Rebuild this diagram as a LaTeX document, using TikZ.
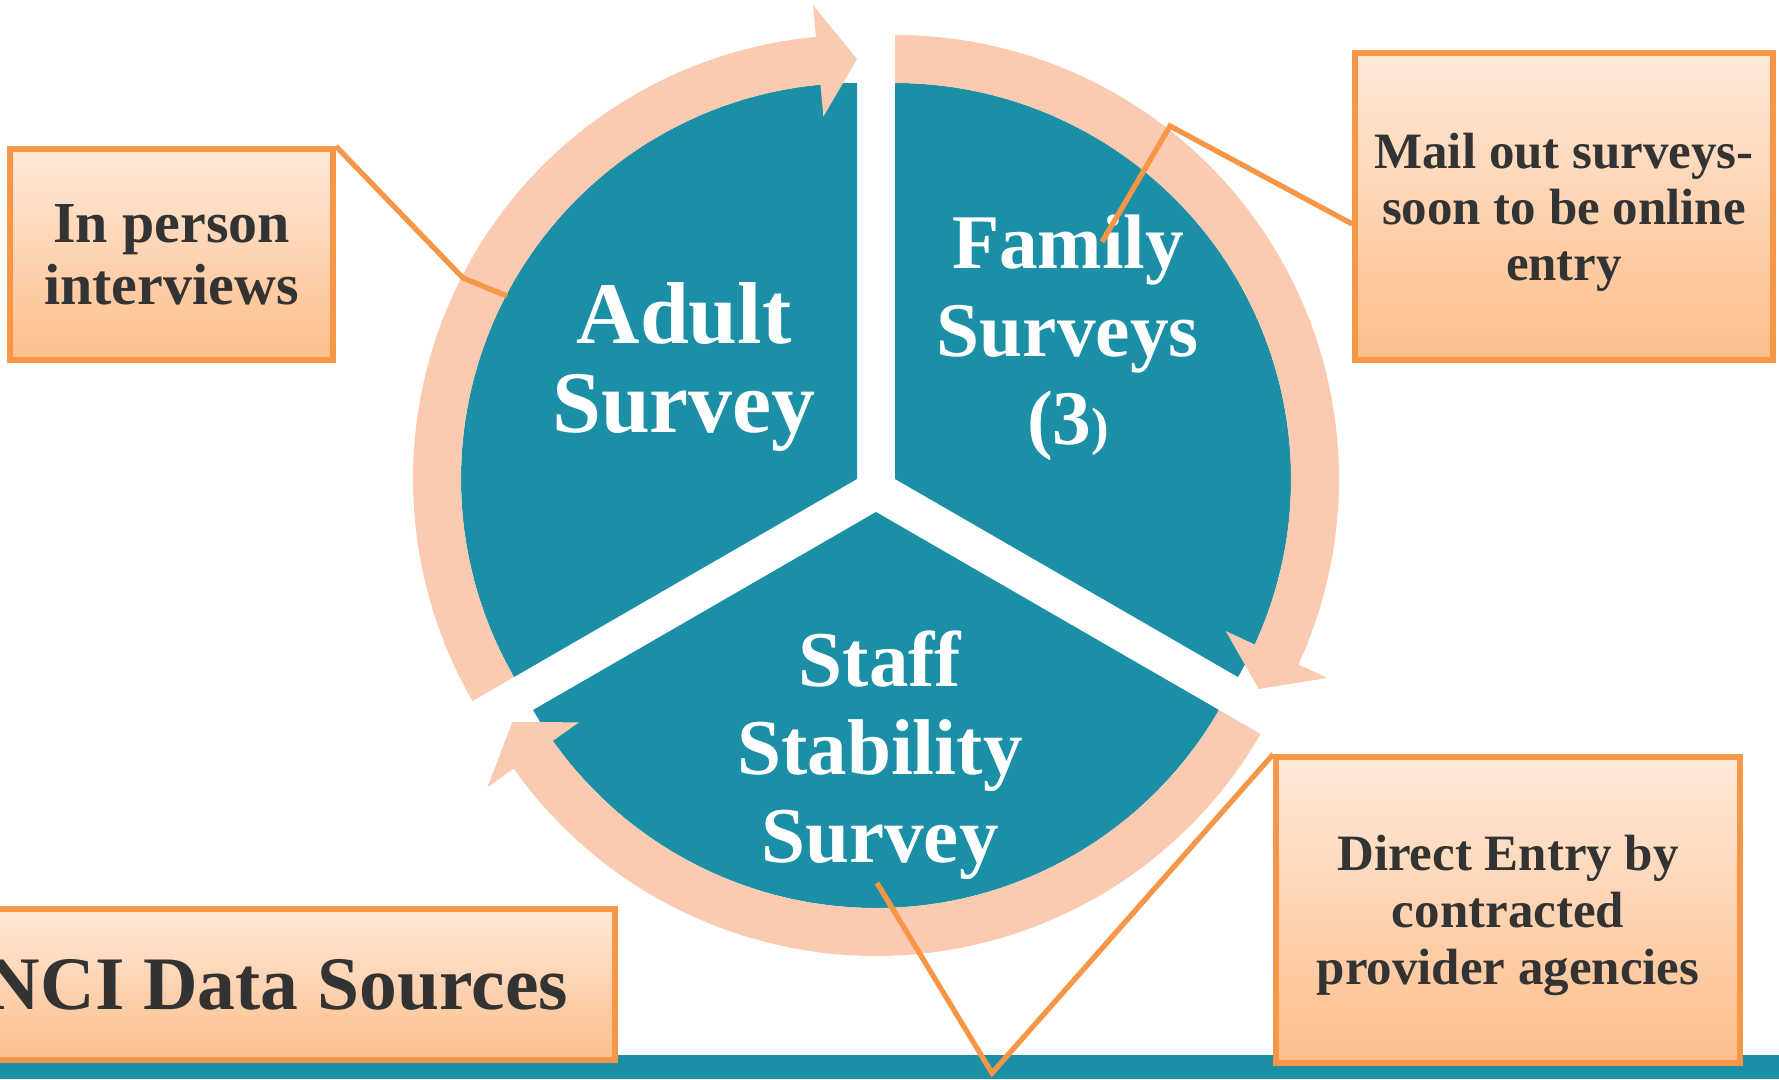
\documentclass[tikz,border=0pt]{standalone}
\usepackage{fontspec}
\setmainfont{Liberation Serif}
\usetikzlibrary{calc,shadows}
\definecolor{pieteal}{RGB}{26,143,166}
\definecolor{ringpeach}{RGB}{250,202,177}
\definecolor{calloutorange}{RGB}{247,150,70}
\definecolor{boxtop}{RGB}{255,233,217}
\definecolor{boxbottom}{RGB}{252,190,139}
\definecolor{boxtext}{RGB}{51,51,51}
\tikzset{
  sector/.style={fill=pieteal},
  ringarrow/.style={fill=ringpeach},
  sectortext/.style={text=white,font=\fontsize{25}{25.2}\selectfont\bfseries,align=center,inner sep=0pt},
  callout/.style={draw=calloutorange,line width=1.6pt,top color=boxtop,bottom color=boxbottom,text=boxtext,align=center,inner sep=0pt,text depth=0pt,
    drop shadow={opacity=0.25,shadow xshift=0.8pt,shadow yshift=-0.8pt}},
  leader/.style={draw=calloutorange,line width=1.5pt}
}
\begin{document}
\begin{tikzpicture}
    \useasboundingbox (0,0) rectangle (17.79,10.79);
    \fill[pieteal] (0,0) rectangle (17.79,0.24);
    \coordinate (av) at (8.57,6.00);
    \coordinate (fv) at (8.95,6.00);
    \coordinate (sv) at (8.76,5.67);
    \foreach \v/\a in {av/90,fv/-30,sv/210}
        \fill[sector] (\v) -- ++(\a:3.96) arc[start angle=\a,delta angle=120,radius=3.96] -- cycle;
    \foreach \v/\a in {av/210,fv/90,sv/-30}{
        \pgfmathsetmacro\b{\a-114.7}
        \pgfmathsetmacro\t{\a-120}
        \begin{scope}[shift={(\v)}]
            \fill[ringarrow] (\a:3.96) arc[start angle=\a,end angle=\b,radius=3.96] -- (\b:3.64) -- (\t:4.2) -- (\b:4.76) -- (\b:4.44)
                arc[start angle=\b,end angle=\a,radius=4.44] -- cycle;
        \end{scope}
    }
    \node[sectortext] (adult) at (6.84,7.12) {Adult\\Survey};
    \node[sectortext,font=\fontsize{22}{25}\selectfont\bfseries] (family) at (10.68,7.41) {Family\\Surveys\\(3{\fontsize{15}{15}\selectfont)}};
    \node[sectortext,font=\fontsize{22.5}{25}\selectfont\bfseries] (staff) at (8.80,3.24) {Staff\\Stability\\Survey};
    \node[callout,minimum width=3.23cm,minimum height=2.11cm,text depth=-2.2pt,font=\fontsize{16.5}{17.6}\selectfont\bfseries] (inperson) at (1.715,8.245) {In person\\interviews};
    \node[callout,minimum width=4.18cm,minimum height=3.07cm,font=\fontsize{14.5}{15.9}\selectfont\bfseries] (mail) at (15.64,8.725) {Mail out surveys-\\soon to be online\\entry};
    \node[callout,minimum width=4.64cm,minimum height=3.06cm,font=\fontsize{14.5}{16.2}\selectfont\bfseries] (direct) at (15.08,1.69) {Direct Entry by\\contracted\\provider agencies};
    \node[callout,minimum width=6.76cm,minimum height=1.51cm,font=\fontsize{21.5}{22}\selectfont\bfseries] (nci) at (2.77,0.945) {NCI Data Sources};
    \coordinate (adultbend) at (4.63,8.01);
    \coordinate (adultend) at (5.07,7.83);
    \coordinate (familybend) at (11.70,9.53);
    \coordinate (familyend) at (11.02,8.37);
    \coordinate (staffbend) at (9.92,0.06);
    \coordinate (staffend) at (8.77,1.96);
    \draw[leader] (inperson.north east) -- (adultbend) -- (adultend);
    \draw[leader] ([yshift=-1.75mm]mail.west) -- (familybend) -- (familyend);
    \draw[leader] (direct.north west) -- (staffbend) -- (staffend);
\end{tikzpicture}
\end{document}
